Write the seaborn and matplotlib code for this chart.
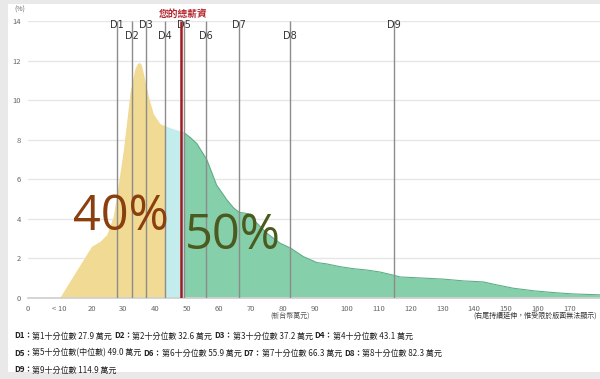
import matplotlib
matplotlib.use("Agg")
import matplotlib.pyplot as plt
import seaborn as sns
import numpy as np
import pandas as pd
from matplotlib.patches import Rectangle

sns.set_theme(style="white")
plt.rcParams['font.family'] = ['Noto Sans CJK TC', 'DejaVu Sans']

# ---- data ----
income = [10, 20, 22.7, 24.8, 26.8, 28, 30, 32.1, 33.6, 34.4, 35, 35.6, 36.2, 37.8, 39.4, 41.5, 43.1,
          45.5, 47.7, 49.0, 51, 53, 56.1, 59.2, 62.4, 64.5, 66.3, 69.1, 71.8, 74.9, 79.1, 82.4,
          86.4, 90.6, 93.7, 97.9, 102, 106.3, 110.4, 114.6, 116.7, 123, 130.3, 136.6, 142.8,
          147, 152.2, 158.5, 164.8, 171, 178.4, 180]
share = [0, 2.6, 2.86, 3.2, 4.1, 5.3, 7.5, 10.4, 11.6, 11.85, 11.9, 11.8, 11.4, 10.2, 9.3, 8.8, 8.7,
         8.55, 8.45, 8.35, 8.1, 7.8, 7.0, 5.7, 4.96, 4.55, 4.32, 4.25, 3.78, 3.27, 2.76, 2.51,
         2.08, 1.78, 1.71, 1.57, 1.47, 1.4, 1.3, 1.14, 1.05, 1.0, 0.94, 0.85, 0.8,
         0.65, 0.48, 0.35, 0.26, 0.19, 0.15, 0.14]
decile_names = ["D1", "D2", "D3", "D4", "D5", "D6", "D7", "D8", "D9"]
decile_values = [27.9, 32.6, 37.2, 43.1, 49.0, 55.9, 66.3, 82.3, 114.9]
decile_desc = ["第1十分位數", "第2十分位數", "第3十分位數", "第4十分位數", "第5十分位數(中位數)",
               "第6十分位數", "第7十分位數", "第8十分位數", "第9十分位數"]
your_salary = 48.1
pct_below = "40%"
pct_above = "50%"
xtick_vals = [0, 10, 20, 30, 40, 50, 60, 70, 80, 90, 100, 110, 120, 130, 140, 150, 160, 170]
xtick_labels = ["0", "< 10", "20", "30", "40", "50", "60", "70", "80", "90", "100", "110",
                "120", "130", "140", "150", "160", "170"]
ytick_vals = [0, 2, 4, 6, 8, 10, 12, 14]

df = pd.DataFrame({"income": income, "share": share})

fig = plt.figure(figsize=(6, 3.79), dpi=100)
fig.patch.set_facecolor("#e9e9e9")
fig.patches.append(Rectangle((8/600, 7/379), 1, 1 - 11/379, transform=fig.transFigure,
                             facecolor="white", edgecolor="none", zorder=-10))

ax = fig.add_axes([27.7/600, (379-297.7)/379, 1 - 27.7/600, (297.7-21)/379])
ax.set_facecolor("none")
ax.set_xlim(0, 179.4)
ax.set_ylim(0, 14)

for g in ytick_vals:
    ax.axhline(g, color="#e6e6e6", lw=1, zorder=0)

x = np.array(income); y = np.array(share)
d4, d5 = decile_values[3], decile_values[4]
m1 = x <= d4
m2 = (x >= d4) & (x <= d5)
m3 = x >= d5
ax.fill_between(x[m1], 0, y[m1], color="#f1da93", lw=0, zorder=1)
ax.fill_between(x[m2], 0, y[m2], color="#c3ecec", lw=0, zorder=1)
ax.fill_between(x[m3], 0, y[m3], color="#86cfab", lw=0, zorder=1)
sns.lineplot(data=df[df.income >= d5], x="income", y="share", ax=ax, color="#5fae88",
             lw=0.8, zorder=2)

rows = [13.78, 13.22]
for i, (n, v) in enumerate(zip(decile_names, decile_values)):
    ax.vlines(v, 0, 14, color="#8c8c8c", lw=1, zorder=3)
    ax.text(v, rows[i % 2], n, ha="center", va="center", fontsize=7, color="#333333",
            family=["DejaVu Sans"], zorder=4)
ax.vlines(your_salary, 0, 14, color="#a01c22", lw=1.8, zorder=5)
ax.text(your_salary + 0.6, 14.35, "您的總薪資", ha="center", va="center", fontsize=7,
        color="#b3242b", fontweight="bold", clip_on=False)

ax.text(29.3, 4.06, pct_below, ha="center", va="center", fontsize=35, color="#8b3e0e",
        family=["Open Sans"], zorder=6)
ax.text(64.2, 3.1, pct_above, ha="center", va="center", fontsize=35, color="#4b5a1e",
        family=["Open Sans"], zorder=6)

ax.set_xticks(xtick_vals)
ax.set_xticklabels(xtick_labels, fontsize=5.5, color="#666666")
ax.set_yticks(ytick_vals)
ax.set_yticklabels([str(v) for v in ytick_vals], fontsize=5.5, color="#666666")
ax.tick_params(axis="x", length=3, color="#cccccc", pad=2)
ax.tick_params(axis="y", length=0, pad=5)
ax.set_xlabel(""); ax.set_ylabel("")
for s in ["top", "right", "left"]:
    ax.spines[s].set_visible(False)
ax.spines["bottom"].set_color("#d0d0d0")

fig.text(20/600, 1 - 10/379, "(%)", fontsize=5, color="#666666", ha="center", va="center")
fig.text(290/600, 1 - 316/379, "(新台幣萬元)", fontsize=5, color="#555555", ha="center", va="center")
fig.text(597/600, 1 - 316/379, "(右尾持續延伸，惟受限於版面無法顯示)", fontsize=5, color="#333333",
         ha="right", va="center")

# footer lines
fig.canvas.draw()
renderer = fig.canvas.get_renderer()
line_groups = [[0, 1, 2, 3], [4, 5, 6, 7], [8]]
line_y = [1 - 336/379, 1 - 353/379, 1 - 370/379]
for grp, yy in zip(line_groups, line_y):
    xpos = 14/600
    for k, i in enumerate(grp):
        segs = [(decile_names[i] + "：", "bold"),
                (f"{decile_desc[i]} {decile_values[i]:.1f} 萬元" + (" " if k < len(grp) - 1 else ""), "normal")]
        for txt, wt in segs:
            t = fig.text(xpos, yy, txt, fontsize=5.8, fontweight=wt, color="#222222",
                         ha="left", va="center")
            bb = t.get_window_extent(renderer=renderer)
            xpos += bb.width / fig.bbox.width

fig.savefig("out.png", dpi=100)
